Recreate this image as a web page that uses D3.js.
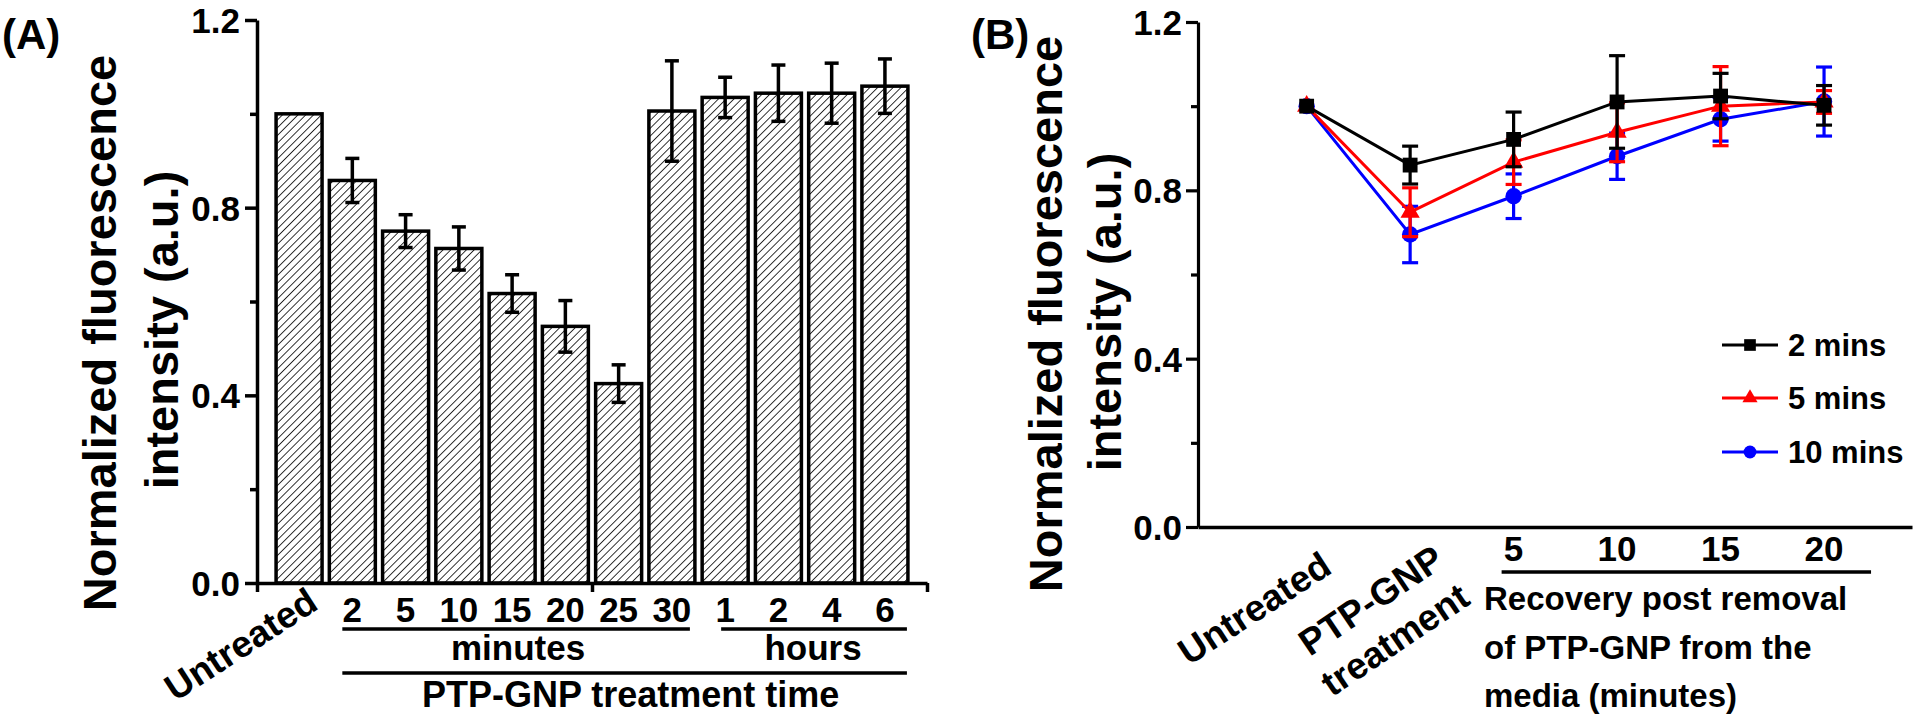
<!DOCTYPE html>
<html><head><meta charset="utf-8">
<script src="https://cdn.jsdelivr.net/npm/d3@7"></script>
<style>
body{margin:0;background:#fff}
text{font-family:"Liberation Sans",Arial,Helvetica,sans-serif;font-weight:bold;fill:#000}
</style>
</head><body>
<svg id="c" width="1920" height="716"></svg>
<script>
// ---------- Panel A data ----------
const catsA = ["Untreated","2","5","10","15","20","25","30","1","2","4","6"];
const valsA = [1.000,0.858,0.750,0.713,0.617,0.547,0.425,1.006,1.035,1.044,1.044,1.059];
const errA  = [0.000,0.047,0.035,0.046,0.040,0.055,0.040,0.107,0.043,0.060,0.064,0.058];
const yTicks = [0,0.4,0.8,1.2];
const yMinor = [0.2,0.6,1.0];
const groupLabelsA = ["minutes","hours","PTP-GNP treatment time"];

// ---------- Panel B data ----------
const catsB = ["Untreated","PTP-GNP|treatment","5","10","15","20"];
const seriesNames = ["2 mins","5 mins","10 mins"];
const seriesColors = ["#000000","#ff0000","#0000ff"];
const vals2  = [1.000,0.860,0.921,1.010,1.024,1.002];
const err2   = [0.000,0.045,0.065,0.110,0.054,0.047];
const vals5  = [1.000,0.748,0.867,0.938,1.000,1.010];
const err5   = [0.000,0.058,0.053,0.070,0.094,0.027];
const vals10 = [1.000,0.695,0.786,0.881,0.969,1.011];
const err10  = [0.000,0.067,0.053,0.055,0.052,0.082];
const recoveryTitle = ["Recovery post removal","of PTP-GNP from the","media (minutes)"];

const svg = d3.select("#c");
const defs = svg.append("defs");
const pat = defs.append("pattern").attr("id","hatch").attr("patternUnits","userSpaceOnUse")
  .attr("width",5.5).attr("height",5.5).attr("patternTransform","rotate(45)");
pat.append("rect").attr("width",5.5).attr("height",5.5).attr("fill","#fff");
pat.append("line").attr("x1",0).attr("y1",0).attr("x2",0).attr("y2",5.5)
  .attr("stroke","#111").attr("stroke-width",1.7);

function styleAxis(g, w){
  g.selectAll("path.domain").attr("stroke","#000").attr("stroke-width",w);
  g.selectAll(".tick line").attr("stroke","#000").attr("stroke-width",w);
  g.selectAll(".tick text").style("font-size","35px").style("font-family","'Liberation Sans',Arial,sans-serif").style("font-weight","bold").attr("fill","#000");
}

// =============== PANEL A ===============
const yA = d3.scaleLinear().domain([0,1.2]).range([583,20]);
const xA = d3.scaleLinear().domain([-0.79,11.79]).range([257,927]);
const bw = 46;

svg.append("g").selectAll("rect").data(valsA).join("rect")
  .attr("x",(d,i)=>xA(i)-bw/2).attr("width",bw)
  .attr("y",d=>yA(d)).attr("height",d=>yA(0)-yA(d))
  .attr("fill","url(#hatch)").attr("stroke","#000").attr("stroke-width",3.5);

const ebA = svg.append("g").attr("stroke","#000").attr("stroke-width",3.5);
valsA.forEach((v,i)=>{
  const e = errA[i]; if(!e) return;
  const cx = xA(i);
  ebA.append("line").attr("x1",cx).attr("x2",cx).attr("y1",yA(v-e)).attr("y2",yA(v+e));
  ebA.append("line").attr("x1",cx-7).attr("x2",cx+7).attr("y1",yA(v+e)).attr("y2",yA(v+e));
  ebA.append("line").attr("x1",cx-7).attr("x2",cx+7).attr("y1",yA(v-e)).attr("y2",yA(v-e));
});

const gyA = svg.append("g").attr("transform","translate(257,0)")
  .call(d3.axisLeft(yA).tickValues(yTicks).tickSize(12).tickSizeOuter(0).tickPadding(5).tickFormat(d3.format(".1f")));
styleAxis(gyA,3.5);
gyA.selectAll(".tick text").attr("dy","0.36em");
const gyAm = svg.append("g").attr("transform","translate(257,0)")
  .call(d3.axisLeft(yA).tickValues(yMinor).tickSize(7).tickFormat(""));
gyAm.select("path.domain").remove(); styleAxis(gyAm,3.5);

const gxA = svg.append("g").attr("transform","translate(0,583)")
  .call(d3.axisBottom(xA).tickValues([-0.79,5.5,11.79]).tickSize(9).tickSizeOuter(0).tickFormat(""));
styleAxis(gxA,3.5);

catsA.forEach((c,i)=>{
  if(i===0){
    svg.append("text").attr("transform",`translate(${xA(i)+21},608) rotate(-33)`)
      .attr("text-anchor","end").style("font-size","37px").text(c);
  } else {
    svg.append("text").attr("x",xA(i)).attr("y",622).attr("text-anchor","middle")
      .style("font-size","35px").text(c);
  }
});
const brA = svg.append("g").attr("stroke","#000").attr("stroke-width",3.5);
brA.append("line").attr("x1",xA(1)-10).attr("x2",xA(7)+18).attr("y1",629).attr("y2",629);
brA.append("line").attr("x1",xA(8)-4).attr("x2",xA(11)+22).attr("y1",629).attr("y2",629);
brA.append("line").attr("x1",xA(1)-10).attr("x2",xA(11)+22).attr("y1",673).attr("y2",673);
svg.append("text").attr("x",(xA(1)+xA(7))/2+6).attr("y",660).attr("text-anchor","middle").style("font-size","35px").text(groupLabelsA[0]);
svg.append("text").attr("x",(xA(8)+xA(11))/2+8).attr("y",660).attr("text-anchor","middle").style("font-size","35px").text(groupLabelsA[1]);
svg.append("text").attr("x",(xA(1)+xA(11))/2+12).attr("y",707).attr("text-anchor","middle").style("font-size","36px").text(groupLabelsA[2]);

svg.append("text").attr("transform","translate(116,333) rotate(-90)").attr("text-anchor","middle")
  .style("font-size","47px").text("Normalized fluorescence");
svg.append("text").attr("transform","translate(178,330) rotate(-90)").attr("text-anchor","middle")
  .style("font-size","47px").text("intensity (a.u.)");
svg.append("text").attr("x",2).attr("y",49).style("font-size","42px").text("(A)");

// =============== PANEL B ===============
const yB = d3.scaleLinear().domain([0,1.2]).range([527,22]);
const xB = d3.scaleLinear().domain([-1.05,5.85]).range([1198,1912]);

const gyB = svg.append("g").attr("transform","translate(1198,0)")
  .call(d3.axisLeft(yB).tickValues(yTicks).tickSize(12).tickSizeOuter(0).tickPadding(4).tickFormat(d3.format(".1f")));
styleAxis(gyB,3.2);
gyB.selectAll(".tick text").attr("dy","0.36em");
const gyBm = svg.append("g").attr("transform","translate(1198,0)")
  .call(d3.axisLeft(yB).tickValues(yMinor).tickSize(7).tickFormat(""));
gyBm.select("path.domain").remove(); styleAxis(gyBm,3.2);
const gxB = svg.append("g").attr("transform","translate(0,527)")
  .call(d3.axisBottom(xB).tickValues([]).tickSizeOuter(0));
styleAxis(gxB,3.5);

const series = [
  {name:seriesNames[0], vals:vals2,  err:err2,  color:seriesColors[0], sym:d3.symbolSquare,   size:220},
  {name:seriesNames[1], vals:vals5,  err:err5,  color:seriesColors[1], sym:d3.symbolTriangle, size:160},
  {name:seriesNames[2], vals:vals10, err:err10, color:seriesColors[2], sym:d3.symbolCircle,   size:210}
];
const line = d3.line().x((d,i)=>xB(i)).y(d=>yB(d));
[2,1,0].forEach(k=>{
  const s = series[k];
  const g = svg.append("g");
  g.append("path").attr("d",line(s.vals)).attr("fill","none").attr("stroke",s.color).attr("stroke-width",3);
  s.vals.forEach((v,i)=>{
    const e = s.err[i]; if(!e) return;
    const cx = xB(i);
    g.append("line").attr("x1",cx).attr("x2",cx).attr("y1",yB(v-e)).attr("y2",yB(v+e)).attr("stroke",s.color).attr("stroke-width",3.2);
    [v-e,v+e].forEach(t=>g.append("line").attr("x1",cx-8).attr("x2",cx+8).attr("y1",yB(t)).attr("y2",yB(t)).attr("stroke",s.color).attr("stroke-width",3.2));
  });
  g.selectAll("path.m").data(s.vals).join("path").attr("class","m")
    .attr("transform",(d,i)=>`translate(${xB(i)},${yB(d)})`)
    .attr("d",d3.symbol(s.sym,s.size)).attr("fill",s.color);
});

const legY = [345,398,452];
series.forEach((s,k)=>{
  const y = legY[k];
  svg.append("line").attr("x1",1722).attr("x2",1778).attr("y1",y).attr("y2",y).attr("stroke",s.color).attr("stroke-width",3);
  svg.append("path").attr("transform",`translate(1750,${y})`).attr("d",d3.symbol(s.sym,s.size*0.62)).attr("fill",s.color);
  svg.append("text").attr("x",1788).attr("y",y).attr("dy","0.36em").style("font-size","31px").text(s.name);
});

catsB.forEach((c,i)=>{
  if(i===0){
    svg.append("text").attr("transform",`translate(${xB(i)+27},572) rotate(-33)`)
      .attr("text-anchor","end").style("font-size","37px").text(c);
  } else if(i===1){
    const parts = c.split("|");
    const t = svg.append("text").attr("transform",`translate(${xB(i)+36},565) rotate(-34)`)
      .attr("text-anchor","end").style("font-size","37px");
    t.append("tspan").attr("x",0).attr("dy",0).text(parts[0]);
    t.append("tspan").attr("x",0).attr("dy",46).text(parts[1]);
  } else {
    svg.append("text").attr("x",xB(i)).attr("y",561).attr("text-anchor","middle").style("font-size","35px").text(c);
  }
});
svg.append("line").attr("x1",xB(2)-12).attr("x2",xB(5)+47).attr("y1",572).attr("y2",572).attr("stroke","#000").attr("stroke-width",3.5);
recoveryTitle.forEach((t,k)=>{
  svg.append("text").attr("x",1484).attr("y",610+k*48.5).style("font-size","33px").text(t);
});

svg.append("text").attr("transform","translate(1062,314) rotate(-90)").attr("text-anchor","middle")
  .style("font-size","47px").text("Normalized fluorescence");
svg.append("text").attr("transform","translate(1121,312) rotate(-90)").attr("text-anchor","middle")
  .style("font-size","47px").text("intensity (a.u.)");
svg.append("text").attr("x",971).attr("y",49).style("font-size","42px").text("(B)");
</script>
</body></html>
